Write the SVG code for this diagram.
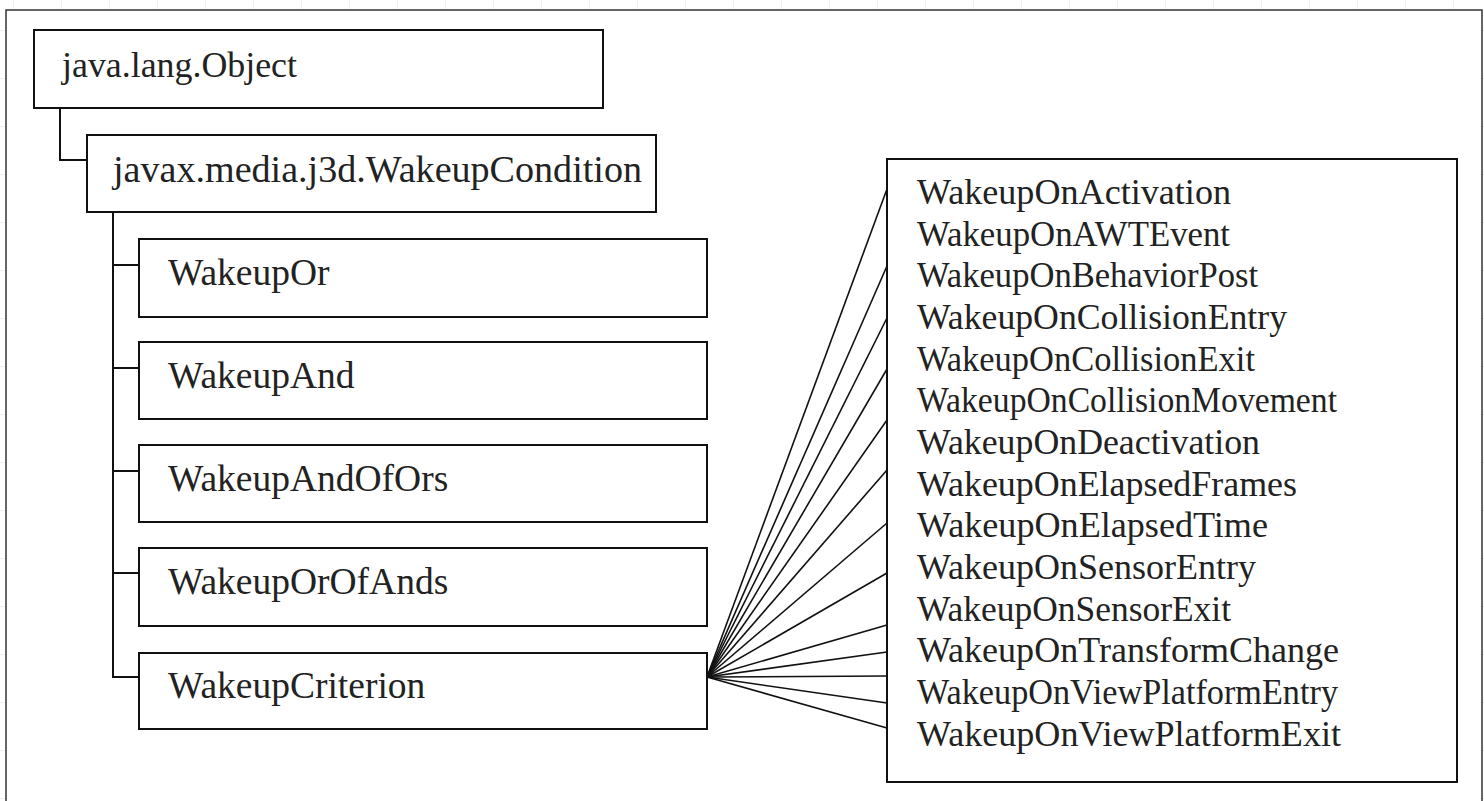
<svg xmlns="http://www.w3.org/2000/svg" width="1484" height="801" viewBox="0 0 1484 801">
<style>
.box{fill:#fff;stroke:#111;stroke-width:2}
.lbl{font-family:"Liberation Serif","Times New Roman",serif;font-size:37.5px;fill:#222}
.item{font-family:"Liberation Serif","Times New Roman",serif;font-size:35px;fill:#222}
.tree{fill:none;stroke:#111;stroke-width:2}
.fan{stroke:#111;stroke-width:1.6}
</style>
<defs>
<pattern id="grid" x="13" y="30" width="48" height="48" patternUnits="userSpaceOnUse">
<path d="M0 0V48M0 0H48" fill="none" stroke="#ececec" stroke-width="1.5"/>
</pattern>
</defs>
<rect width="1484" height="801" fill="#fff"/>
<rect width="1484" height="801" fill="url(#grid)"/>
<rect x="6" y="10" width="1476" height="800" fill="#fff" stroke="#333" stroke-width="1.5"/>
<g id="connectors">
<path class="tree" d="M60 108V160H87"/>
<path class="tree" d="M113 212V677H139M113 265H139M113 368H139M113 471H139M113 573H139"/>
<g class="fan">
<line x1="707" y1="677" x2="887" y2="189"/>
<line x1="707" y1="677" x2="887" y2="266"/>
<line x1="707" y1="677" x2="887" y2="318"/>
<line x1="707" y1="677" x2="887" y2="369"/>
<line x1="707" y1="677" x2="887" y2="420"/>
<line x1="707" y1="677" x2="887" y2="470"/>
<line x1="707" y1="677" x2="887" y2="523"/>
<line x1="707" y1="677" x2="887" y2="573"/>
<line x1="707" y1="677" x2="887" y2="625"/>
<line x1="707" y1="677" x2="887" y2="652"/>
<line x1="707" y1="677" x2="887" y2="676"/>
<line x1="707" y1="677" x2="887" y2="703"/>
<line x1="707" y1="677" x2="887" y2="728"/>
</g>
</g>
<g id="object"><rect class="box" x="34" y="30" width="569" height="78"/><text class="lbl" x="62" y="77" style="font-size:36px" textLength="235" lengthAdjust="spacingAndGlyphs">java.lang.Object</text></g>
<g id="wakeupCondition"><rect class="box" x="87" y="135" width="569" height="77"/><text class="lbl" x="113" y="182" textLength="529" lengthAdjust="spacingAndGlyphs">javax.media.j3d.WakeupCondition</text></g>
<g id="wakeupOr"><rect class="box" x="139" y="239" width="568" height="78"/><text class="lbl" x="168" y="285">WakeupOr</text></g>
<g id="wakeupAnd"><rect class="box" x="139" y="342" width="568" height="77"/><text class="lbl" x="168" y="388">WakeupAnd</text></g>
<g id="wakeupAndOfOrs"><rect class="box" x="139" y="445" width="568" height="77"/><text class="lbl" x="168" y="491">WakeupAndOfOrs</text></g>
<g id="wakeupOrOfAnds"><rect class="box" x="139" y="548" width="568" height="78"/><text class="lbl" x="168" y="594">WakeupOrOfAnds</text></g>
<g id="wakeupCriterion"><rect class="box" x="139" y="653" width="568" height="76"/><text class="lbl" x="168" y="698">WakeupCriterion</text></g>
<g id="criteria">
<rect class="box" x="887" y="159" width="570" height="623"/>
<text class="item" x="917" y="204" textLength="314" lengthAdjust="spacingAndGlyphs">WakeupOnActivation</text>
<text class="item" x="917" y="246" textLength="313" lengthAdjust="spacingAndGlyphs">WakeupOnAWTEvent</text>
<text class="item" x="917" y="287" textLength="341" lengthAdjust="spacingAndGlyphs">WakeupOnBehaviorPost</text>
<text class="item" x="917" y="329" textLength="370" lengthAdjust="spacingAndGlyphs">WakeupOnCollisionEntry</text>
<text class="item" x="917" y="371" textLength="338" lengthAdjust="spacingAndGlyphs">WakeupOnCollisionExit</text>
<text class="item" x="917" y="412" textLength="420" lengthAdjust="spacingAndGlyphs">WakeupOnCollisionMovement</text>
<text class="item" x="917" y="454" textLength="343" lengthAdjust="spacingAndGlyphs">WakeupOnDeactivation</text>
<text class="item" x="917" y="496" textLength="380" lengthAdjust="spacingAndGlyphs">WakeupOnElapsedFrames</text>
<text class="item" x="917" y="537" textLength="351" lengthAdjust="spacingAndGlyphs">WakeupOnElapsedTime</text>
<text class="item" x="917" y="579" textLength="339" lengthAdjust="spacingAndGlyphs">WakeupOnSensorEntry</text>
<text class="item" x="917" y="621" textLength="314" lengthAdjust="spacingAndGlyphs">WakeupOnSensorExit</text>
<text class="item" x="917" y="662" textLength="422" lengthAdjust="spacingAndGlyphs">WakeupOnTransformChange</text>
<text class="item" x="917" y="704" textLength="421" lengthAdjust="spacingAndGlyphs">WakeupOnViewPlatformEntry</text>
<text class="item" x="917" y="746" textLength="424" lengthAdjust="spacingAndGlyphs">WakeupOnViewPlatformExit</text>
</g>
</svg>
